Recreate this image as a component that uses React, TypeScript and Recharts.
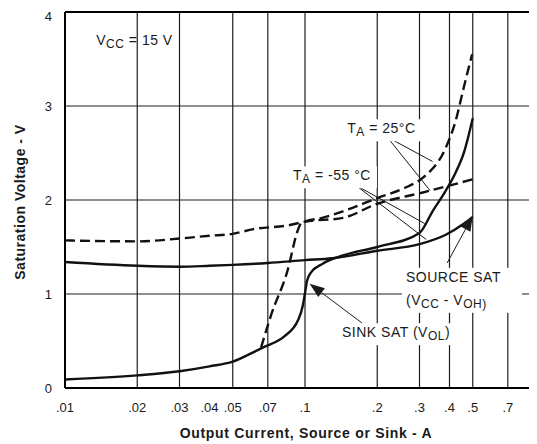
import React from "react";
import {
  LineChart,
  Line,
  XAxis,
  YAxis,
  CartesianGrid,
  ReferenceLine,
  ReferenceDot,
} from "recharts";

const xTicks = [0.01, 0.02, 0.03, 0.04, 0.05, 0.07, 0.1, 0.2, 0.3, 0.4, 0.5, 0.7, 1];
const xTickLabels = [".01", ".02", ".03", ".04", ".05", ".07", ".1", ".2", ".3", ".4", ".5", ".7", "1"];
const yTicks = [0, 1, 2, 3, 4];

// sink saturation, -55 C (solid)
const sinkColdI = [0.01, 0.02, 0.03, 0.04, 0.05, 0.062, 0.068, 0.082, 0.0935, 0.098, 0.1, 0.102, 0.106, 0.118, 0.144, 0.2, 0.3, 0.34, 0.386, 0.424, 0.46, 0.5];
const sinkColdV = [0.09, 0.134, 0.178, 0.23, 0.28, 0.39, 0.44, 0.55, 0.72, 0.88, 1.01, 1.14, 1.23, 1.32, 1.41, 1.5, 1.65, 1.88, 2.1, 2.29, 2.51, 2.87];

// source saturation, -55 C (solid)
const sourceColdI = [0.01, 0.02, 0.03, 0.04, 0.05, 0.07, 0.1, 0.13, 0.2, 0.3, 0.386, 0.46, 0.5];
const sourceColdV = [1.34, 1.3, 1.29, 1.3, 1.31, 1.33, 1.36, 1.38, 1.46, 1.53, 1.63, 1.75, 1.82];

// source saturation, 25 C (dashed)
const sourceWarmI = [0.01, 0.02, 0.03, 0.04, 0.05, 0.061, 0.085, 0.1, 0.144, 0.2, 0.31, 0.5];
const sourceWarmV = [1.57, 1.56, 1.59, 1.62, 1.64, 1.69, 1.73, 1.77, 1.81, 1.96, 2.08, 2.22];

// sink saturation, 25 C (dashed)
const sinkWarmI = [0.0656, 0.0721, 0.0848, 0.0931, 0.0962, 0.1, 0.118, 0.144, 0.2, 0.261, 0.311, 0.385, 0.424, 0.46, 0.497];
const sinkWarmV = [0.43, 0.77, 1.26, 1.67, 1.75, 1.77, 1.81, 1.88, 2.02, 2.13, 2.24, 2.55, 2.84, 3.21, 3.55];

const toRows = (xs: number[], ys: number[]) => xs.map((i, k) => ({ i, v: ys[k] }));

const FONT = "'Liberation Sans', Arial, sans-serif";
const INK = "#1a1a1a";

type Piece = { t: string; sub?: boolean };

function makeNote(lines: Piece[][], boxWidth: number, withBox: boolean) {
  return (p: any) => {
    const { cx, cy } = p;
    return (
      <g>
        {withBox && (
          <rect x={cx - 4} y={cy - 14} width={boxWidth} height={lines.length * 23 - 1} fill="#fff" />
        )}
        {lines.map((line, li) => (
          <text
            key={li}
            x={cx}
            y={cy + li * 23}
            fontSize={14}
            letterSpacing={0.5}
            fontFamily={FONT}
            fill={INK}
          >
            {line.map((pc, k) =>
              pc.sub ? (
                <tspan key={k} fontSize={12} dy={3}>
                  {pc.t}
                </tspan>
              ) : (
                <tspan key={k} dy={k > 0 && line[k - 1].sub ? -3 : 0}>
                  {pc.t}
                </tspan>
              )
            )}
          </text>
        ))}
      </g>
    );
  };
}

function leader(arrow: boolean) {
  return (p: any) => {
    const { x1, y1, x2, y2 } = p;
    const dx = x2 - x1;
    const dy = y2 - y1;
    const len = Math.sqrt(dx * dx + dy * dy) || 1;
    const ux = dx / len;
    const uy = dy / len;
    const L = 15;
    const W = 5.5;
    const bx = x2 - ux * L;
    const by = y2 - uy * L;
    return (
      <g>
        <line x1={x1} y1={y1} x2={arrow ? bx : x2} y2={arrow ? by : y2} stroke={INK} strokeWidth={1} />
        {arrow && (
          <polygon
            points={`${x2},${y2} ${bx - uy * W},${by + ux * W} ${bx + uy * W},${by - ux * W}`}
            fill={INK}
          />
        )}
      </g>
    );
  };
}

export default function App() {
  const curve = {
    type: "monotone" as const,
    dataKey: "v",
    stroke: "#111",
    strokeWidth: 2.4,
    dot: false,
    isAnimationActive: false,
  };
  return (
    <div style={{ width: 529, height: 436, overflow: "hidden" }}>
      <LineChart width={550} height={436} margin={{ top: 4, right: 13, bottom: 26, left: 0 }}>
        <CartesianGrid stroke="#1e1e1e" strokeWidth={1.2} />
        <XAxis
          type="number"
          dataKey="i"
          scale="log"
          domain={[0.01, 1]}
          ticks={xTicks}
          tickFormatter={(v: number) => xTickLabels[xTicks.indexOf(v)] ?? String(v)}
          allowDataOverflow
          height={30}
          tickLine={false}
          tickSize={0}
          tickMargin={15}
          axisLine={{ stroke: "#000", strokeWidth: 2 }}
          tick={{ fontSize: 13, fontFamily: FONT, fill: INK }}
          label={{
            content: () => (
              <text
                x={298}
                y={430}
                textAnchor="middle"
                fontSize={14}
                letterSpacing={0.7}
                fontWeight="bold"
                fontFamily={FONT}
                fill={INK}
              >
                Output Current, Source or Sink - A
              </text>
            ),
          }}
        />
        <YAxis
          type="number"
          domain={[0, 4]}
          ticks={yTicks}
          width={57}
          tickLine={false}
          tickSize={0}
          tickMargin={13}
          axisLine={{ stroke: "#000", strokeWidth: 2 }}
          tick={{ fontSize: 13, fontFamily: FONT, fill: INK }}
          label={{
            content: () => (
              <text
                x={0}
                y={0}
                transform="translate(17,194) rotate(-90)"
                textAnchor="middle"
                fontSize={14}
                letterSpacing={0.5}
                fontWeight="bold"
                fontFamily={FONT}
                fill={INK}
              >
                Saturation Voltage - V
              </text>
            ),
          }}
        />
        <ReferenceLine y={4} stroke="#000" strokeWidth={2} />

        <Line {...curve} data={toRows(sourceWarmI, sourceWarmV)} strokeDasharray="10 5" />
        <Line {...curve} data={toRows(sinkWarmI, sinkWarmV)} strokeDasharray="10 5" />
        <Line {...curve} data={toRows(sourceColdI, sourceColdV)} />
        <Line {...curve} data={toRows(sinkColdI, sinkColdV)} />

        <ReferenceLine segment={[{ x: 0.22, y: 2.67 }, { x: 0.34, y: 2.41 }]} shape={leader(false)} />
        <ReferenceLine segment={[{ x: 0.22, y: 2.67 }, { x: 0.332, y: 2.1 }]} shape={leader(false)} />
        <ReferenceLine segment={[{ x: 0.162, y: 2.16 }, { x: 0.315, y: 1.75 }]} shape={leader(false)} />
        <ReferenceLine segment={[{ x: 0.162, y: 2.16 }, { x: 0.32, y: 1.58 }]} shape={leader(false)} />
        <ReferenceLine segment={[{ x: 0.391, y: 1.33 }, { x: 0.5, y: 1.83 }]} shape={leader(true)} />
        <ReferenceLine segment={[{ x: 0.173, y: 0.69 }, { x: 0.1045, y: 1.11 }]} shape={leader(true)} />

        <ReferenceDot
          x={0.0135}
          y={3.65}
          r={0}
          shape={makeNote([[{ t: "V" }, { t: "CC", sub: true }, { t: " = 15 V" }]], 84, false)}
        />
        <ReferenceDot
          x={0.15}
          y={2.71}
          r={0}
          shape={makeNote([[{ t: "T" }, { t: "A", sub: true }, { t: " = 25°C" }]], 78, true)}
        />
        <ReferenceDot
          x={0.0891}
          y={2.21}
          r={0}
          shape={makeNote([[{ t: "T" }, { t: "A", sub: true }, { t: " = -55 °C" }]], 88, true)}
        />
        <ReferenceDot
          x={0.2635}
          y={1.13}
          r={0}
          shape={makeNote(
            [
              [{ t: "SOURCE SAT" }],
              [{ t: "(V" }, { t: "CC", sub: true }, { t: " - " }, { t: "V" }, { t: "OH)", sub: true }],
            ],
            120,
            true
          )}
        />
        <ReferenceDot
          x={0.1426}
          y={0.54}
          r={0}
          shape={makeNote([[{ t: "SINK SAT (V" }, { t: "OL", sub: true }, { t: ")" }]], 122, true)}
        />
      </LineChart>
    </div>
  );
}
